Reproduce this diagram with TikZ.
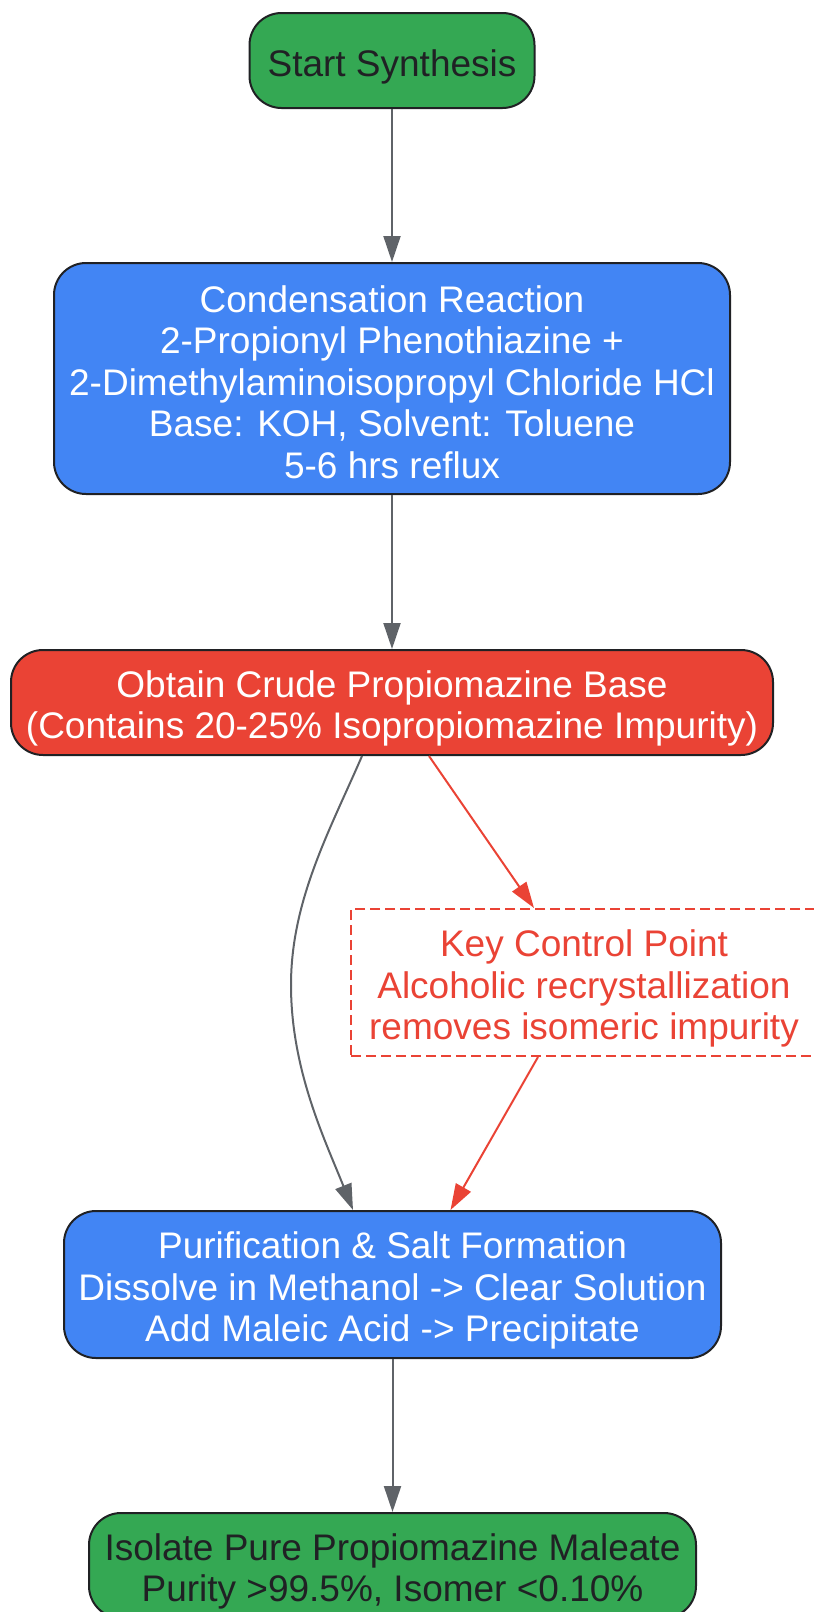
\documentclass[tikz,border=0pt]{standalone}
\usepackage{fontspec}
\setmainfont{Liberation Sans}
\usetikzlibrary{arrows.meta,calc}
\definecolor{gGreen}{HTML}{34A853}
\definecolor{gBlue}{HTML}{4285F4}
\definecolor{gRed}{HTML}{EA4335}
\definecolor{gGray}{HTML}{5F6368}
\definecolor{gDark}{HTML}{202124}
\newcommand\topstrut{\rule{0pt}{39pt}}
\newcommand\botstrut{\rule[-5.3pt]{0pt}{0pt}}
\tikzset{
  txt/.style={align=center, inner sep=0pt, font=\fontsize{37}{41.6}\selectfont},
  box/.style={txt, draw=gDark, line width=2pt, rounded corners=32pt},
  greenbox/.style={box, fill=gGreen, text=gDark},
  bluebox/.style={box, fill=gBlue, text=white},
  redbox/.style={box, fill=gRed, text=white},
  notebox/.style={txt, draw=gRed, line width=2pt, dash pattern=on 10pt off 5pt, fill=white,
    text=gRed},
  flow/.style={draw=gGray, line width=2pt, -{Triangle[length=26pt,width=17pt]}},
  redflow/.style={draw=gRed, line width=2pt, -{Triangle[length=26pt,width=17pt]}},
}
\begin{document}
\begin{tikzpicture}[x=1pt,y=-1pt]
\useasboundingbox (0,0) rectangle (814,1612);
\node[greenbox, minimum width=285pt, minimum height=95pt] (start) at (392,60.5) {\topstrut Start Synthesis\botstrut};
\node[bluebox, minimum width=676pt, minimum height=231pt] (cond) at (392,378.5)
  {\topstrut Condensation Reaction\\2-Propionyl Phenothiazine +\\2-Dimethylaminoisopropyl Chloride HCl\\Base: KOH, Solvent: Toluene\\5-6 hrs reflux\botstrut};
\node[redbox, minimum width=762pt, minimum height=105pt] (crude) at (392,702.5)
  {\topstrut Obtain Crude Propiomazine Base\\(Contains 20-25\% Isopropiomazine Impurity)\botstrut};
\node[notebox, minimum width=466pt, minimum height=147pt] (key) at (584,982.5)
  {\topstrut Key Control Point\\Alcoholic recrystallization\\removes isomeric impurity\botstrut};
\node[bluebox, minimum width=657pt, minimum height=147pt] (purif) at (392.5,1284.5)
  {\topstrut Purification \& Salt Formation\\Dissolve in Methanol -> Clear Solution\\Add Maleic Acid -> Precipitate\botstrut};
\node[greenbox, minimum width=607pt, minimum height=105pt] (iso) at (392.5,1565.5)
  {\topstrut Isolate Pure Propiomazine Maleate\\Purity >99.5\%, Isomer <0.10\%\botstrut};

\draw[flow] (start) -- (cond);
\draw[flow] (cond) -- (crude);
\draw[redflow] ($(crude.south)+(37,0)$) -- ($(key.north)+(-50,0)$);
\draw[redflow] ($(key.south)+(-46,0)$) -- ($(purif.north)+(58,0)$);
\coordinate (mid) at (291,985);
\draw[draw=gGray, line width=2pt] ($(crude.south)+(-30,0)$) .. controls (330,830) and (291,900) .. (mid);
\draw[flow] (mid) .. controls (291,1070) and (325,1140) .. ($(purif.north)+(-39.5,0)$);
\draw[flow] (purif) -- (iso);
\end{tikzpicture}
\end{document}
